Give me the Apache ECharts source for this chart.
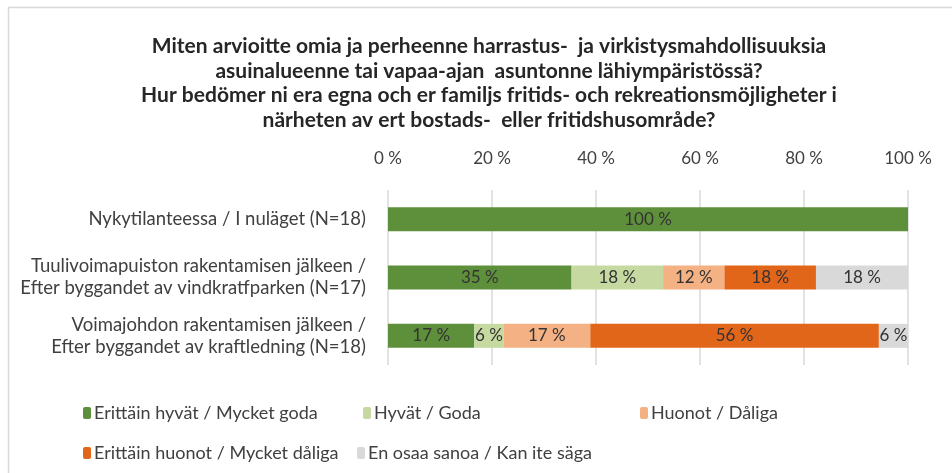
<!DOCTYPE html>
<html>
<head>
<meta charset="utf-8">
<script src="https://cdn.jsdelivr.net/npm/echarts@6/dist/echarts.min.js"></script>
<style>
  html, body { margin: 0; padding: 0; background: #fff; }
  #chart { width: 952px; height: 473px; }
</style>
</head>
<body>
<div id="chart"></div>
<script>
// categories (top to bottom)
const categories = [
  "Nykytilanteessa / I nuläget (N=18)",
  "Tuulivoimapuiston rakentamisen jälkeen /\nEfter byggandet av vindkratfparken (N=17)",
  "Voimajohdon rakentamisen jälkeen /\nEfter byggandet av kraftledning (N=18)"
];
const seriesNames = [
  "Erittäin hyvät / Mycket goda",
  "Hyvät / Goda",
  "Huonot / Dåliga",
  "Erittäin huonot / Mycket dåliga",
  "En osaa sanoa / Kan ite säga"
];
// percent shares per series, one value per category
const veryGood = [100, 35.3, 16.6];
const good = [0, 17.6, 5.6];
const poor = [0, 11.8, 16.7];
const veryPoor = [0, 17.6, 55.5];
const dontKnow = [0, 17.7, 5.6];
const xTicks = [0, 20, 40, 60, 80, 100];

const colors = ["#5e8f3a", "#c5d9a0", "#f4b183", "#e2661a", "#d9d9d9"];
const font = "Lato, 'Open Sans', sans-serif";

const chart = echarts.init(document.getElementById("chart"));

const allData = [veryGood, good, poor, veryPoor, dontKnow];
const series = allData.map((d, i) => ({
  name: seriesNames[i],
  type: "bar",
  stack: "total",
  barWidth: 24,
  data: d,
  itemStyle: { color: colors[i] },
  label: {
    show: true,
    position: "inside",
    color: "#333",
    fontFamily: font,
    fontSize: 17,
    formatter: p => (p.value > 0 ? Math.round(p.value) + " %" : "")
  }
}));

// legend placed like the original two-row layout
const legendPos = [
  { left: 78, top: 399 },
  { left: 358, top: 399 },
  { left: 635, top: 399 },
  { left: 78, top: 439 },
  { left: 352, top: 439 }
];

chart.setOption({
  animation: false,
  title: {
    text: "Miten arvioitte omia ja perheenne harrastus-  ja virkistysmahdollisuuksia\nasuinalueenne tai vapaa-ajan  asuntonne lähiympäristössä?\nHur bedömer ni era egna och er familjs fritids- och rekreationsmöjligheter i\nnärheten av ert bostads-  eller fritidshusområde?",
    left: 484,
    top: 29,
    textAlign: "center",
    textStyle: {
      fontFamily: font,
      fontWeight: "bold",
      fontSize: 21,
      lineHeight: 24.5,
      color: "#262626"
    }
  },
  graphic: [{
    type: "rect",
    shape: { x: 8.5, y: 7.5, width: 960, height: 480 },
    style: { fill: "none", stroke: "#d9d9d9", lineWidth: 1.5 },
    silent: true
  }],
  legend: legendPos.map((p, i) => ({
    data: [seriesNames[i]],
    left: p.left,
    top: p.top,
    itemWidth: 8,
    itemHeight: 12,
    itemGap: 4,
    selectedMode: false,
    textStyle: { fontFamily: font, fontSize: 18, color: "#404040", padding: [0, 0, 0, -2] }
  })),
  grid: { left: 388, right: 44, top: 190, bottom: 108 },
  xAxis: {
    type: "value",
    position: "top",
    min: 0,
    max: 100,
    interval: 20,
    axisLine: { show: false },
    axisTick: { show: false },
    splitLine: { lineStyle: { color: "#d9d9d9", width: 1.5 } },
    axisLabel: {
      margin: 23,
      fontFamily: font,
      fontSize: 17,
      color: "#404040",
      formatter: v => (xTicks.includes(v) ? v + " %" : "")
    }
  },
  yAxis: {
    type: "category",
    inverse: true,
    data: categories,
    axisLine: { show: false },
    axisTick: { show: false },
    axisLabel: {
      margin: 22,
      fontFamily: font,
      fontSize: 18.5,
      lineHeight: 22,
      color: "#404040",
      align: "right"
    }
  },
  series: series
});
</script>
</body>
</html>
